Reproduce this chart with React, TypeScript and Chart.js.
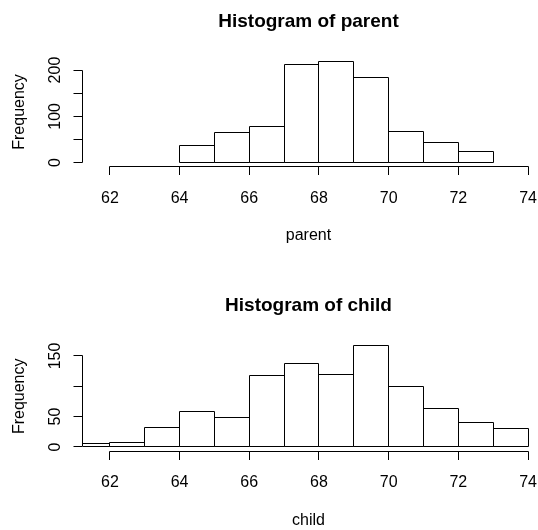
import React, { useEffect, useRef } from "react";
import { Chart, registerables } from "chart.js";

Chart.register(...registerables);

// ---- data ----
const parentBreaks = [64, 65, 66, 67, 68, 69, 70, 71, 72, 73];
const parentCounts = [37, 66, 78, 211, 219, 183, 68, 43, 23];

const childBreaks = [61, 62, 63, 64, 65, 66, 67, 68, 69, 70, 71, 72, 73, 74];
const childCounts = [5, 7, 32, 59, 48, 117, 138, 120, 167, 99, 64, 41, 31];

const xTickValues = [62, 64, 66, 68, 70, 72, 74];
const xTickLabels = ["62", "64", "66", "68", "70", "72", "74"];

const parentYTicks = [0, 50, 100, 150, 200];
const parentYLabels = ["0", "", "100", "", "200"];

const childYTicks = [0, 50, 100, 150];
const childYLabels = ["0", "50", "", "150"];

const xRange = [61.7, 73.7];

const FONT = "'Liberation Sans', Arial, Helvetica, sans-serif";

type HistProps = {
  breaks: number[];
  counts: number[];
  title: string;
  xlab: string;
  yTicks: number[];
  yLabels: string[];
  height: number;
  padTop: number;
  padBottom: number;
};

const rAxesPlugin = {
  id: "rAxes",
  afterDatasetsDraw(chart: any, _args: any, opts: any) {
    const ctx: CanvasRenderingContext2D = chart.ctx;
    const area = chart.chartArea;
    const xs = chart.scales.x;
    const ys = chart.scales.y;
    const snap = (v: number) => Math.round(v - 0.5) + 0.5;
    ctx.save();
    ctx.strokeStyle = "#000";
    ctx.fillStyle = "#000";
    ctx.lineWidth = 1;

    // outline bars, clipped to the plot region
    ctx.save();
    ctx.beginPath();
    ctx.rect(Math.round(area.left), area.top, area.right - area.left, area.bottom - area.top);
    ctx.clip();
    const meta = chart.getDatasetMeta(0);
    meta.data.forEach((bar: any) => {
      const p = bar.getProps(["x", "y", "base", "width"], true);
      const l = snap(p.x - p.width / 2);
      const r = snap(p.x + p.width / 2);
      const t = snap(p.y);
      const b = snap(p.base);
      ctx.beginPath();
      ctx.rect(l, t, r - l, b - t);
      ctx.stroke();
    });
    ctx.restore();

    // x axis
    const xt: number[] = opts.xTicks;
    const xl: string[] = opts.xLabels;
    const yAx = snap(area.bottom);
    ctx.beginPath();
    ctx.moveTo(snap(xs.getPixelForValue(xt[0])), yAx);
    ctx.lineTo(snap(xs.getPixelForValue(xt[xt.length - 1])), yAx);
    xt.forEach((v) => {
      const px = snap(xs.getPixelForValue(v));
      ctx.moveTo(px, yAx);
      ctx.lineTo(px, yAx + 8.5);
    });
    ctx.stroke();
    ctx.font = `16px ${FONT}`;
    ctx.textAlign = "center";
    ctx.textBaseline = "alphabetic";
    xt.forEach((v, i) => {
      ctx.fillText(xl[i], xs.getPixelForValue(v), area.bottom + 36);
    });

    // y axis
    const yt: number[] = opts.yTicks;
    const yl: string[] = opts.yLabels;
    const xAx = snap(area.left);
    ctx.beginPath();
    ctx.moveTo(xAx, snap(ys.getPixelForValue(yt[0])));
    ctx.lineTo(xAx, snap(ys.getPixelForValue(yt[yt.length - 1])));
    yt.forEach((v) => {
      const py = snap(ys.getPixelForValue(v));
      ctx.moveTo(xAx, py);
      ctx.lineTo(xAx - 9, py);
    });
    ctx.stroke();
    yt.forEach((v, i) => {
      if (!yl[i]) return;
      ctx.save();
      ctx.translate(area.left - 27.5, ys.getPixelForValue(v));
      ctx.rotate(-Math.PI / 2);
      ctx.textAlign = "center";
      ctx.textBaseline = "middle";
      ctx.fillText(yl[i], 0, 0);
      ctx.restore();
    });

    // axis titles
    const cx = (area.left + area.right) / 2;
    const cy = (area.top + area.bottom) / 2;
    ctx.textAlign = "center";
    ctx.textBaseline = "alphabetic";
    ctx.fillText(opts.xlab, cx, area.bottom + 73.5);
    ctx.save();
    ctx.translate(24, cy);
    ctx.rotate(-Math.PI / 2);
    ctx.fillText("Frequency", 0, 0);
    ctx.restore();

    // main title
    ctx.font = `bold 19px ${FONT}`;
    ctx.fillText(opts.title, cx, area.top - 30.5);

    ctx.restore();
  },
};

function Hist(props: HistProps) {
  const ref = useRef<HTMLCanvasElement | null>(null);
  useEffect(() => {
    if (!ref.current) return;
    const maxC = Math.max(...props.counts);
    const span = xRange[1] - xRange[0];
    const data = props.counts.map((c, i) => ({
      x: (props.breaks[i] + props.breaks[i + 1]) / 2,
      y: c,
    }));
    const chart = new Chart(ref.current, {
      type: "bar",
      data: {
        datasets: [
          {
            data: data as any,
            backgroundColor: "#ffffff",
            borderWidth: 0,
            barPercentage: 1,
            categoryPercentage: 1,
          },
        ],
      },
      options: {
        animation: false,
        responsive: false,
        devicePixelRatio: 1,
        layout: {
          padding: {
            left: 82.7,
            right: 3.7,
            top: props.padTop,
            bottom: props.padBottom,
          },
        },
        plugins: {
          legend: { display: false },
          title: { display: false },
          tooltip: { enabled: false },
          rAxes: {
            xTicks: xTickValues,
            xLabels: xTickLabels,
            yTicks: props.yTicks,
            yLabels: props.yLabels,
            title: props.title,
            xlab: props.xlab,
          },
        } as any,
        scales: {
          x: {
            type: "linear",
            display: false,
            offset: false,
            min: xRange[0] - 0.04 * span,
            max: xRange[1] + 0.04 * span,
            ticks: { stepSize: 1, includeBounds: false },
          },
          y: {
            type: "linear",
            display: false,
            min: -0.04 * maxC,
            max: 1.04 * maxC,
          },
        },
      },
      plugins: [rAxesPlugin],
    });
    return () => chart.destroy();
  }, []);
  return (
    <canvas
      ref={ref}
      width={538}
      height={props.height}
      style={{ display: "block", width: 538, height: props.height }}
    />
  );
}

export default function App() {
  return (
    <div
      style={{
        position: "absolute",
        left: 0,
        top: 0,
        width: 538,
        height: 530,
        background: "#fff",
      }}
    >
      <Hist
        breaks={parentBreaks}
        counts={parentCounts}
        title="Histogram of parent"
        xlab="parent"
        yTicks={parentYTicks}
        yLabels={parentYLabels}
        height={284}
        padTop={57.2}
        padBottom={117.3}
      />
      <Hist
        breaks={childBreaks}
        counts={childCounts}
        title="Histogram of child"
        xlab="child"
        yTicks={childYTicks}
        yLabels={childYLabels}
        height={246}
        padTop={57.6}
        padBottom={79}
      />
    </div>
  );
}
